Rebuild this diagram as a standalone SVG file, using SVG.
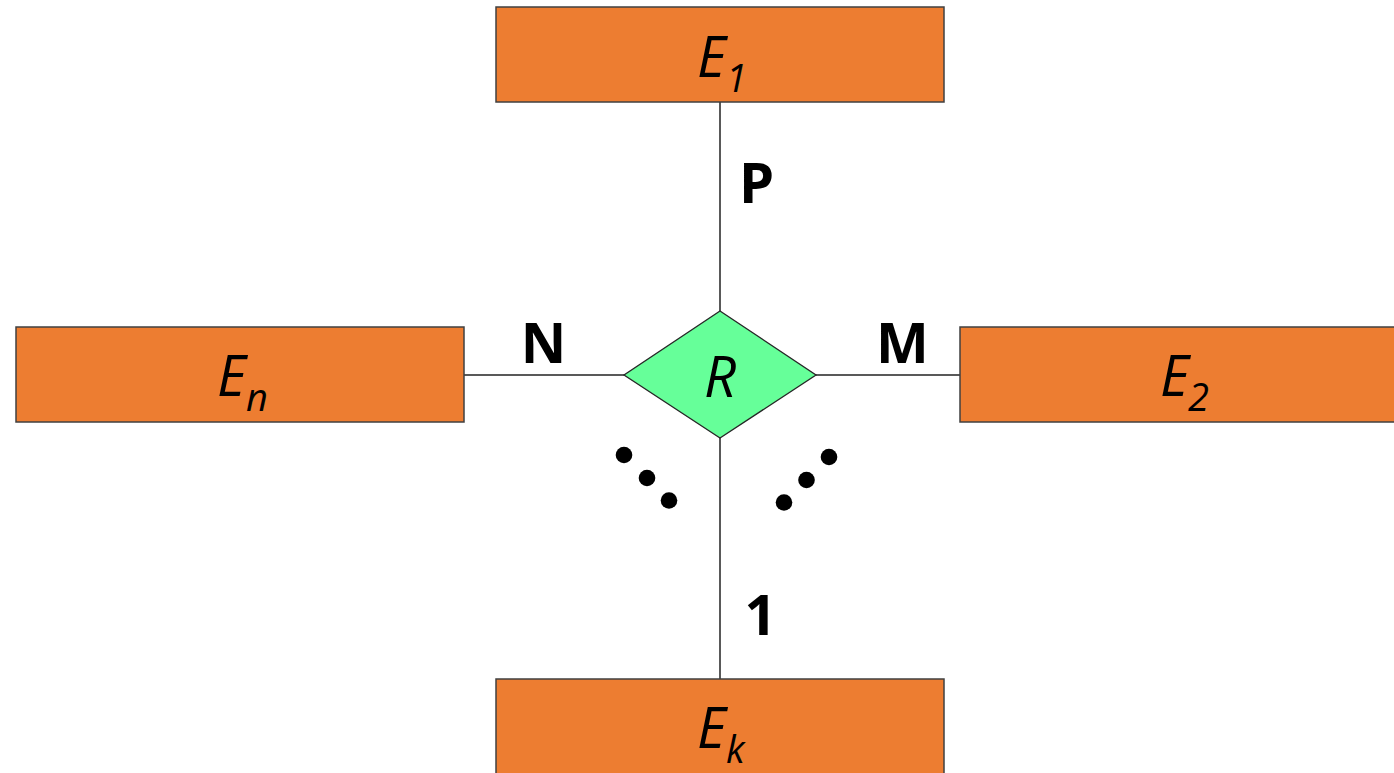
<svg xmlns="http://www.w3.org/2000/svg" width="1394" height="773" viewBox="0 0 1394 773">
<style>
.ent{fill:#ED7D31;stroke:#404040;stroke-width:1.5}
.rel{fill:#66FF99;stroke:#262626;stroke-width:1.3}
.ln{stroke:#595959;stroke-width:2;fill:none}
.lbl{font-family:"Open Sans","Liberation Sans",sans-serif;font-style:italic;font-size:56px;fill:#000}
.sub{font-size:38px}
.card{font-family:"Open Sans","Liberation Sans",sans-serif;font-weight:bold;font-size:56px;fill:#000;text-anchor:middle}
.dot{fill:#000}
</style>
<rect width="1394" height="773" fill="#fff"/>
<g id="connectors">
<line class="ln" x1="720" y1="102" x2="720" y2="311"/>
<line class="ln" x1="464" y1="375" x2="624" y2="375"/>
<line class="ln" x1="816" y1="375" x2="960" y2="375"/>
<line class="ln" x1="720" y1="438" x2="720" y2="679"/>
</g>
<g id="E1">
<rect class="ent" x="496" y="7" width="448" height="95"/>
<text class="lbl"><tspan x="697" y="77">E</tspan><tspan class="sub" x="726" y="92">1</tspan></text>
</g>
<g id="En">
<rect class="ent" x="16" y="327" width="448" height="95"/>
<text class="lbl"><tspan x="217" y="396">E</tspan><tspan class="sub" x="246" y="411">n</tspan></text>
</g>
<g id="E2">
<rect class="ent" x="960" y="327" width="445" height="95"/>
<text class="lbl"><tspan x="1160" y="396">E</tspan><tspan class="sub" x="1188" y="411">2</tspan></text>
</g>
<g id="Ek">
<rect class="ent" x="496" y="679" width="448" height="110"/>
<text class="lbl"><tspan x="697" y="748">E</tspan><tspan class="sub" x="726" y="763">k</tspan></text>
</g>
<g id="R">
<polygon class="rel" points="720,311 816,375 720,438 624,375"/>
<text class="lbl" x="720" y="397" text-anchor="middle">R</text>
</g>
<g id="cardinalities">
<text class="card" x="756.5" y="203">P</text>
<text class="card" x="543.5" y="363">N</text>
<text class="card" x="902.5" y="363">M</text>
<text class="card" x="760.5" y="635">1</text>
</g>
<g id="ellipsis">
<circle class="dot" cx="624" cy="455" r="8.3"/>
<circle class="dot" cx="647" cy="478" r="8.3"/>
<circle class="dot" cx="669" cy="500.5" r="8.3"/>
<circle class="dot" cx="829" cy="457" r="8.3"/>
<circle class="dot" cx="806.5" cy="480" r="8.3"/>
<circle class="dot" cx="784" cy="502.5" r="8.3"/>
</g>
</svg>
